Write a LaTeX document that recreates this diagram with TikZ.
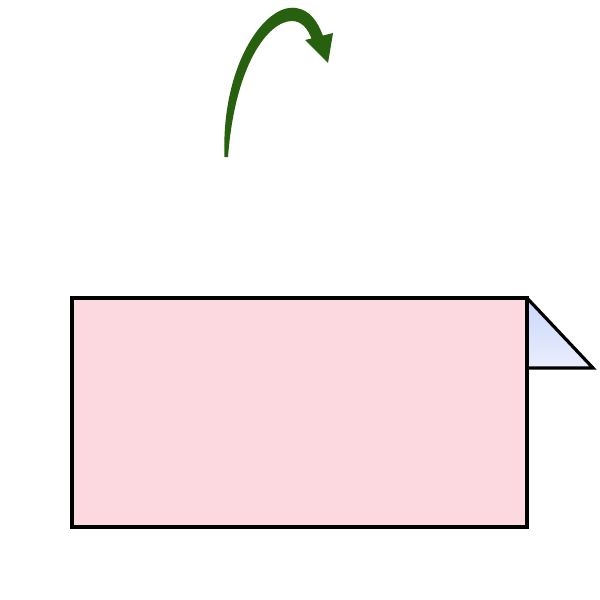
\documentclass[tikz,border=0pt]{standalone}
\begin{document}
\begin{tikzpicture}[x=1pt,y=-1pt,
  paper/.style={draw=black,line width=3.2pt,line join=miter},
  arrowgreen/.style={fill=foldgreen}]
\definecolor{pinkpaper}{HTML}{FCD9E0}
\definecolor{bluetop}{HTML}{C9D6FA}
\definecolor{bluebot}{HTML}{EAEFFD}
\definecolor{foldgreen}{HTML}{27600F}
\useasboundingbox (0,0) rectangle (600,600);
% flap
\shade[top color=bluetop,bottom color=bluebot] (527,298) -- (593,368) -- (527,368) -- cycle;
\draw[paper] (527,298) -- (593,368) -- (527,368);
% main rectangle
\draw[paper,fill=pinkpaper] (72,298) rectangle (527,527);
% curved arrow
\fill[arrowgreen] (224.5,157) .. controls (221,65) and (265,3) .. (296,8)
  .. controls (310,10) and (318,22) .. (323,36)
  -- (312,40) .. controls (308,28) and (301,21) .. (292,21)
  .. controls (268,21) and (235,65) .. (228,157) -- cycle;
\fill[arrowgreen] (305,40) -- (333,33) -- (328,63) -- cycle;
\end{tikzpicture}
\end{document}
